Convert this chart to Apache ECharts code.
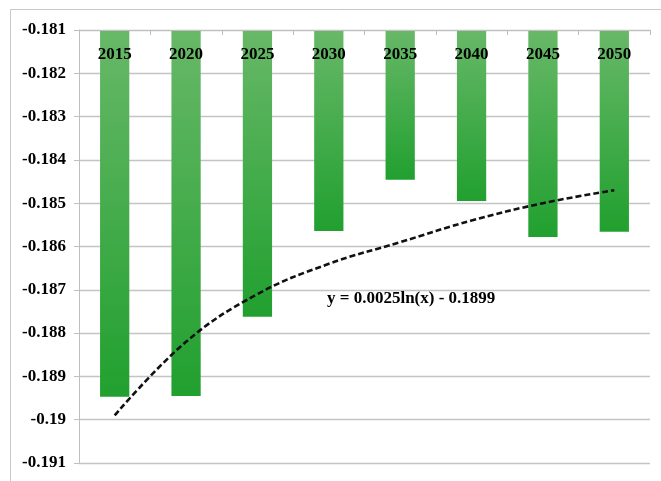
<!DOCTYPE html>
<html>
<head>
<meta charset="utf-8">
<script src="https://cdn.jsdelivr.net/npm/echarts@6/dist/echarts.min.js"></script>
<style>
html,body{margin:0;padding:0;background:#fff;}
#main{width:661px;height:481px;}
</style>
</head>
<body>
<div id="main"></div>
<script>
// ---- data ----
var categories = ['2015', '2020', '2025', '2030', '2035', '2040', '2045', '2050'];
var barValues = [-0.18947, -0.18945, -0.18762, -0.18564, -0.18446, -0.18495, -0.18578, -0.18566];
var trendValues = [-0.1899, -0.1882, -0.1871, -0.1864, -0.1859, -0.1854, -0.1850, -0.1847];
var yMin = -0.191;
var yMax = -0.181;
var yInterval = 0.001;
var equationText = 'y = 0.0025ln(x) - 0.1899';

var font = '"Liberation Serif", "Times New Roman", serif';
var chart = echarts.init(document.getElementById('main'), null, {renderer: 'canvas'});
chart.setOption({
  animation: false,
  backgroundColor: '#ffffff',
  grid: {left: 79, right: 11, top: 30, bottom: 18},
  xAxis: {
    type: 'category',
    position: 'top',
    data: categories,
    boundaryGap: true,
    z: 10,
    axisLine: {show: true, lineStyle: {color: '#bfbfbf', width: 1}},
    axisTick: {show: true, inside: true, length: 5, interval: 0, lineStyle: {color: '#bfbfbf'}},
    axisLabel: {inside: true, margin: 16, color: '#000', fontFamily: font, fontWeight: 'bold', fontSize: 17, interval: 0},
    splitLine: {show: false}
  },
  yAxis: {
    type: 'value',
    min: yMin,
    max: yMax,
    interval: yInterval,
    axisLine: {show: true, lineStyle: {color: '#bfbfbf', width: 1}},
    axisTick: {show: true, length: 5, lineStyle: {color: '#bfbfbf'}},
    axisLabel: {margin: 13, color: '#000', fontFamily: font, fontWeight: 'bold', fontSize: 17},
    splitLine: {show: true, lineStyle: {color: '#c4c4c4', width: 1.3}}
  },
  series: [
    {
      type: 'bar',
      data: barValues,
      barWidth: '41%',
      clip: true,
      itemStyle: {
        color: new echarts.graphic.LinearGradient(0, 0, 0, 1, [
          {offset: 0, color: '#68b868'},
          {offset: 1, color: '#21a02f'}
        ])
      },
      z: 2
    },
    {
      type: 'line',
      data: trendValues,
      smooth: 0.4,
      showSymbol: false,
      symbol: 'none',
      lineStyle: {color: '#111', width: 2.6, type: [6, 3]},
      z: 3
    }
  ],
  graphic: [
    {
      type: 'rect',
      shape: {x: 10.5, y: 9.5, width: 700, height: 520},
      style: {fill: 'none', stroke: '#c8c8c8', lineWidth: 1},
      silent: true
    },
    {
      type: 'text',
      left: 327,
      top: 290,
      z: 20,
      style: {text: equationText, fill: '#000', font: 'bold 17px ' + font}
    }
  ]
});
</script>
</body>
</html>
